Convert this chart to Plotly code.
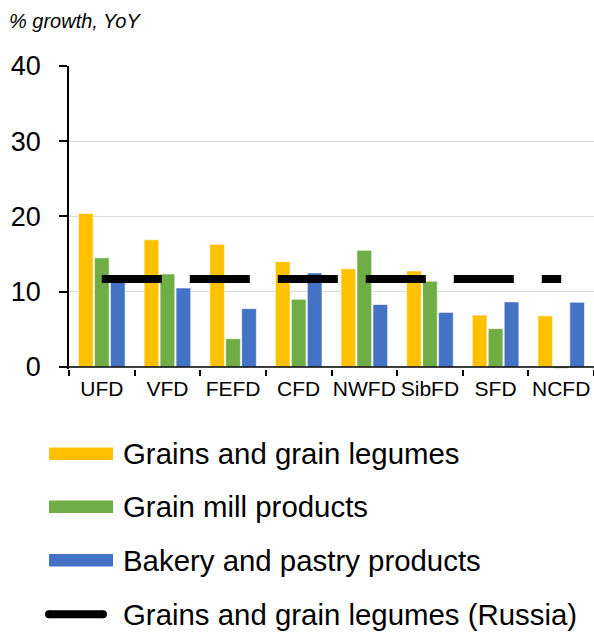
import plotly.graph_objects as go

# ---------------- data ----------------
regions = ["UFD", "VFD", "FEFD", "CFD", "NWFD", "SibFD", "SFD", "NCFD"]
grains = [20.4, 16.9, 16.3, 14.0, 13.05, 12.75, 6.9, 6.8]
grain_mill = [14.5, 12.35, 3.75, 9.0, 15.5, 11.4, 5.1, -0.2]
bakery = [11.5, 10.5, 7.75, 12.5, 8.3, 7.25, 8.65, 8.6]
russia = [11.7, 11.7, 11.7, 11.7, 11.7, 11.7, 11.7, 11.7]

series_names = [
    "Grains and grain legumes",
    "Grain mill products",
    "Bakery and pastry products",
    "Grains and grain legumes (Russia)",
]
colors = ["#FFC000", "#70AD47", "#4472C4", "#000000"]
y_ticks = [0, 10, 20, 30, 40]
title_text = "% growth, YoY"

# ---------------- layout geometry ----------------
W, H = 594, 632
L, R, T, B = 69, 0, 66, 263
PW = W - L - R
PH = H - T - B
FONT = "Liberation Sans, Arial, sans-serif"


def px_x(px):
    return (px - L) / PW


def px_y(py):
    return (H - B - py) / PH


fig = go.Figure()
for vals, name, col in zip([grains, grain_mill, bakery], series_names[:3], colors[:3]):
    fig.add_trace(go.Bar(
        x=regions, y=vals, name=name,
        marker=dict(color=col, line=dict(color="rgba(255,255,255,0.6)", width=1)),
        showlegend=False,
    ))

fig.add_trace(go.Scatter(
    x=regions, y=russia, name=series_names[3], mode="lines",
    line=dict(color=colors[3], width=8, dash="60px,28px"),
    showlegend=False,
))

# ---------------- manual legend ----------------
row_centers = [453.7, 506.7, 560.3, 614.3]
shapes = []
annotations = []

# x axis line at value 0, above the bars
shapes.append(dict(
    type="line", xref="paper", yref="y", x0=0, x1=1, y0=0, y1=0,
    line=dict(color="black", width=1.5), layer="above",
))

for i, (name, col) in enumerate(zip(series_names, colors)):
    yc = row_centers[i]
    if i < 3:
        shapes.append(dict(
            type="rect", xref="paper", yref="paper",
            x0=px_x(49), x1=px_x(113), y0=px_y(yc + 6.3), y1=px_y(yc - 6.3),
            fillcolor=col, line=dict(width=0),
        ))
    else:
        shapes.append(dict(
            type="line", xref="paper", yref="paper",
            x0=px_x(49), x1=px_x(103), y0=px_y(yc), y1=px_y(yc),
            line=dict(color=col, width=8),
        ))
        for cx in (49, 103):
            shapes.append(dict(
                type="circle", xref="paper", yref="paper",
                xsizemode="pixel", ysizemode="pixel",
                xanchor=px_x(cx), yanchor=px_y(yc),
                x0=-4, x1=4, y0=-4, y1=4,
                fillcolor=col, line=dict(width=0),
            ))
    annotations.append(dict(
        xref="paper", yref="paper", x=px_x(121), y=px_y(yc),
        xanchor="left", yanchor="middle", showarrow=False,
        text=name, font=dict(family=FONT, size=29.4, color="#000000"),
    ))

annotations.append(dict(
    xref="paper", yref="paper", x=px_x(7), y=px_y(21),
    xanchor="left", yanchor="middle", showarrow=False,
    text="<i>" + title_text + "</i>",
    font=dict(family=FONT, size=20, color="#000000"),
))

fig.update_layout(
    width=W, height=H,
    margin=dict(l=L, r=R, t=T, b=B, pad=0),
    paper_bgcolor="white", plot_bgcolor="white",
    barmode="group", bargap=0.27, bargroupgap=0.08,
    showlegend=False,
    shapes=shapes, annotations=annotations,
    font=dict(family=FONT, color="#000000"),
)
fig.update_xaxes(
    type="category", range=[-0.5, 7.5],
    showline=False, showgrid=False, zeroline=False,
    ticks="outside", tickson="boundaries", ticklen=6, tickwidth=1.5, tickcolor="black",
    tickangle=0, tickfont=dict(family=FONT, size=21, color="black"),
    ticklabelstandoff=5,
)
fig.update_yaxes(
    range=[-0.27, 40], tickvals=y_ticks,
    showline=True, linecolor="black", linewidth=1.5,
    showgrid=True, gridcolor="#d9d9d9", gridwidth=1,
    zeroline=False,
    ticks="outside", ticklen=8, tickwidth=1.5, tickcolor="black",
    tickfont=dict(family=FONT, size=27, color="black"),
    ticklabelstandoff=13,
)

fig.write_html("out.html")
